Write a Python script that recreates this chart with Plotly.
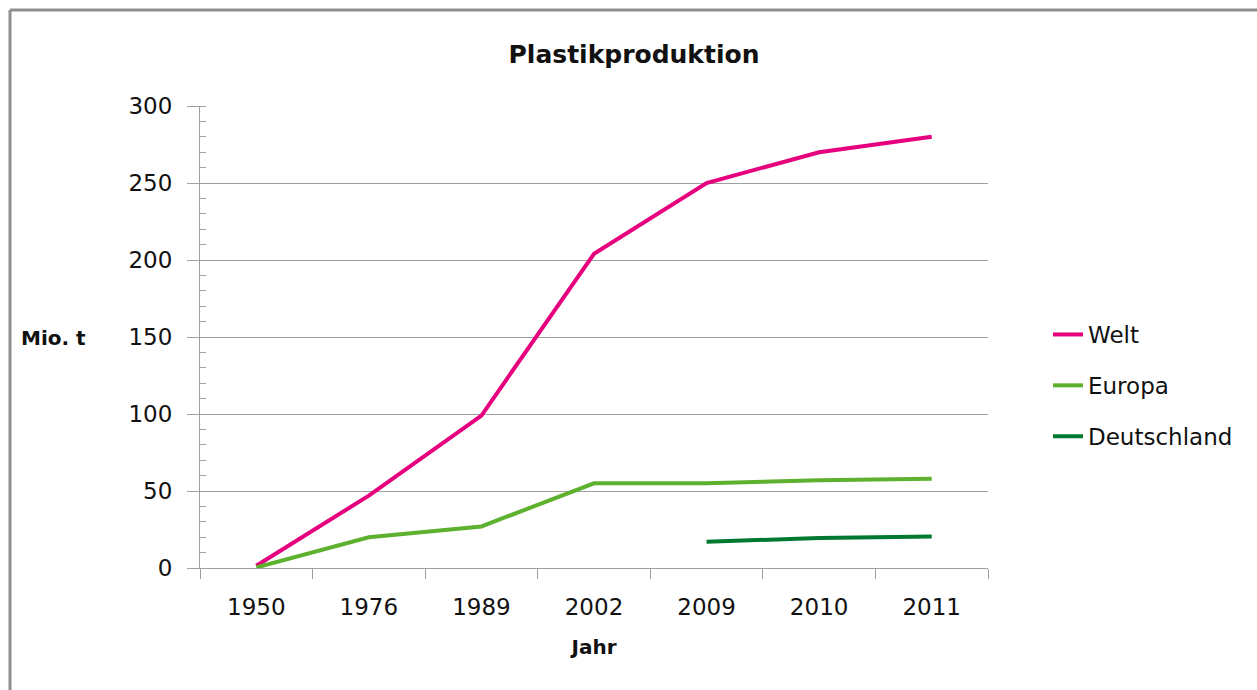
import plotly.graph_objects as go

years = ["1950", "1976", "1989", "2002", "2009", "2010", "2011"]
welt = [1.5, 47, 99, 204, 250, 270, 280]
europa = [0.35, 20, 27, 55, 55, 57, 58]
deutschland = [None, None, None, None, 17, 19.5, 20.5]

series_names = ["Welt", "Europa", "Deutschland"]
series_colors = ["#E6007E", "#5DB12E", "#00782F"]

W, H = 1257, 690
L, R, T, B = 200, 988, 106, 568
pw, ph = R - L, B - T

def px_x(p):
    return (p - L) / pw

def px_y(p):
    return (B - p) / ph

fig = go.Figure()
for i, (name, vals) in enumerate(zip(series_names, [welt, europa, deutschland])):
    fig.add_trace(go.Scatter(
        x=years, y=vals, name=name, mode="lines",
        line=dict(color=series_colors[i], width=4),
        legendgroup=name, connectgaps=False,
    ))

font_family = "DejaVu Sans"
axis_color = "#A0A0A0"

fig.update_layout(
    width=W, height=H,
    margin=dict(l=L, r=W - R, t=T, b=H - B),
    paper_bgcolor="white", plot_bgcolor="white",
    font=dict(family=font_family, size=23, color="#111111"),
    title=dict(text="<b>Plastikproduktion</b>", xref="container", yref="container",
               x=634 / W, y=1 - 54 / H, xanchor="center", yanchor="middle",
               font=dict(size=25, family=font_family, color="#111111")),
    showlegend=True,
    legend=dict(x=px_x(1048), y=px_y(313), xanchor="left", yanchor="top",
                traceorder="grouped", tracegroupgap=18,
                font=dict(size=23, family=font_family),
                bgcolor="rgba(0,0,0,0)"),
    xaxis=dict(
        type="category", range=[-0.5, 6.5],
        showline=True, linecolor=axis_color, linewidth=1,
        ticks="outside", ticklen=10, tickcolor=axis_color, tickson="boundaries",
        showgrid=False, tickfont=dict(size=23), ticklabelstandoff=18,
        title=dict(text="<b>Jahr</b>", font=dict(size=20), standoff=21),
    ),
    yaxis=dict(
        range=[0, 300], dtick=50, tick0=0,
        showline=True, linecolor=axis_color, linewidth=1,
        ticks="outside", ticklen=12, tickcolor=axis_color,
        showgrid=True, gridcolor=axis_color, gridwidth=1,
        zeroline=False, tickfont=dict(size=23), ticklabelstandoff=10,
        minor=dict(ticks="inside", ticklen=6, dtick=10, tickcolor=axis_color, showgrid=False),
    ),
    annotations=[dict(text="<b>Mio. t</b>", xref="paper", yref="paper",
                      x=px_x(19), y=px_y(338), xanchor="left", yanchor="middle",
                      showarrow=False, font=dict(size=20, family=font_family, color="#111111"))],
    shapes=[
        dict(type="line", xref="paper", yref="paper", x0=px_x(10), x1=px_x(1300),
             y0=px_y(10), y1=px_y(10), line=dict(color="#8F8F8F", width=3)),
        dict(type="line", xref="paper", yref="paper", x0=px_x(10), x1=px_x(10),
             y0=px_y(10), y1=px_y(720), line=dict(color="#8F8F8F", width=3)),
    ],
)

fig.write_html("out.html")
